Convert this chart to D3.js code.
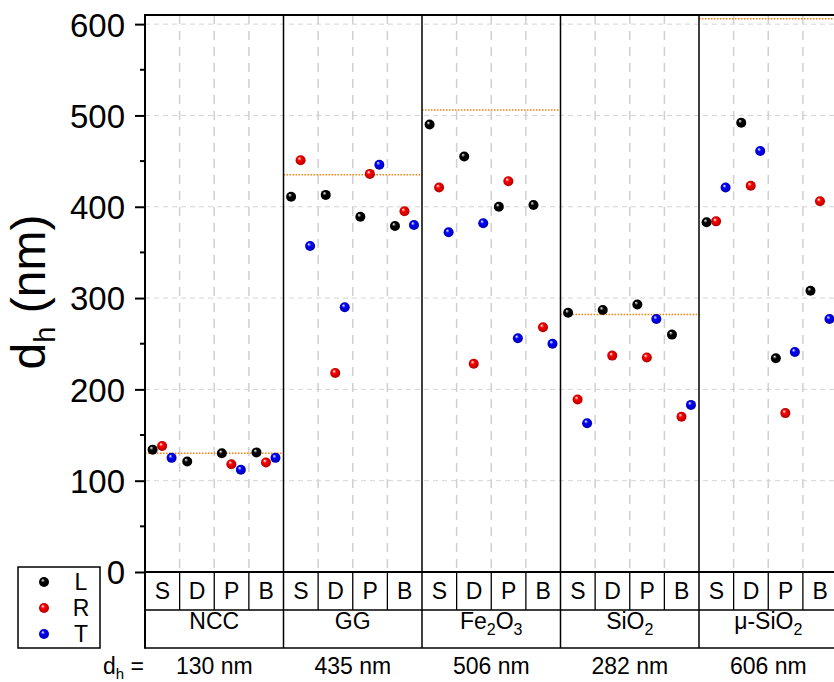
<!DOCTYPE html>
<html>
<head>
<meta charset="utf-8">
<script src="https://cdn.jsdelivr.net/npm/d3@7.9.0/dist/d3.min.js"></script>
<style>
  body { margin: 0; background: #fff; }
  svg { display: block; font-family: "Liberation Sans", Arial, sans-serif; }
</style>
</head>
<body>
<svg id="chart" width="834" height="682"></svg>
<script>
// particle types, dispersion methods, observers
const groups = ["NCC", "GG", "Fe2O3", "SiO2", "μ-SiO2"];
const methods = ["S", "D", "P", "B"];
const series = ["L", "R", "T"];
const seriesColors = ["#000000", "#ff0000", "#0000ff"];
const dhRef = [130, 435, 506, 282, 606];
const yTicks = [0, 100, 200, 300, 400, 500, 600];

// one row per group, one value per method (null = no point)
const valuesL = [
  [134, 121, 130, 131],
  [411, 413, 389, 379],
  [490, 455, 400, 402],
  [284, 287, 293, 260],
  [383, 492, 234, 308]
];
const valuesR = [
  [138, null, 118, 120],
  [451, 218, 436, 395],
  [421, 228, 428, 268],
  [189, 237, 235, 170],
  [384, 423, 174, 406]
];
const valuesT = [
  [125, null, 112, 125],
  [357, 290, 446, 380],
  [372, 382, 256, 250],
  [163, null, 277, 183],
  [421, 461, 241, 277]
];

const svg = d3.select("#chart");
const plotLeft = 145, plotTop = 15, plotBottom = 572;
const rowH = 38;
const row1 = plotBottom + rowH, row2 = row1 + rowH;

const y = d3.scaleLinear().domain([0, 610]).range([plotBottom, plotTop]);
const xGroup = d3.scaleBand().domain(groups).range([plotLeft, plotLeft + 5 * 138.5]);
const xMethod = d3.scaleBand().domain(methods).range([0, xGroup.bandwidth()]);
const xSeries = d3.scalePoint().domain(series).range([7.6, 26.6]);
const right = xGroup.range()[1];

// sphere gradients
const defs = svg.append("defs");
series.forEach((s, i) => {
  const g = defs.append("radialGradient")
    .attr("id", "ball-" + s)
    .attr("cx", "50%").attr("cy", "50%").attr("r", "55%")
    .attr("fx", "35%").attr("fy", "30%");
  g.append("stop").attr("offset", "0%").attr("stop-color", "#ffffff");
  g.append("stop").attr("offset", "35%").attr("stop-color", seriesColors[i]);
  g.append("stop").attr("offset", "100%").attr("stop-color", d3.color(seriesColors[i]).darker(1.2));
});

// horizontal grid
svg.append("g").selectAll("line")
  .data(yTicks.filter(d => d > 0))
  .enter().append("line")
  .attr("x1", plotLeft).attr("x2", right)
  .attr("y1", d => y(d)).attr("y2", d => y(d))
  .attr("stroke", "#d4d4d4").attr("stroke-width", 1)
  .attr("stroke-dasharray", "5,4");

// vertical method grid inside the plot + solid in method row
groups.forEach(g => {
  methods.slice(1).forEach(m => {
    const xm = xGroup(g) + xMethod(m);
    svg.append("line")
      .attr("x1", xm).attr("x2", xm)
      .attr("y1", plotTop).attr("y2", plotBottom)
      .attr("stroke", "#d0d0d0").attr("stroke-width", 1.5)
      .attr("stroke-dasharray", "9,7");
    svg.append("line")
      .attr("x1", xm).attr("x2", xm)
      .attr("y1", plotBottom).attr("y2", row1)
      .attr("stroke", "#000").attr("stroke-width", 1.3);
  });
});

// reference d_h lines
svg.append("g").selectAll("line")
  .data(groups)
  .enter().append("line")
  .attr("x1", d => xGroup(d)).attr("x2", d => xGroup(d) + xGroup.bandwidth())
  .attr("y1", (d, i) => y(dhRef[i])).attr("y2", (d, i) => y(dhRef[i]))
  .attr("stroke", "#ff7f0e").attr("stroke-width", 1.5)
  .attr("stroke-dasharray", "1.5,1.5");

// panel separators
svg.append("g").selectAll("line")
  .data(groups.slice(1))
  .enter().append("line")
  .attr("x1", d => xGroup(d)).attr("x2", d => xGroup(d))
  .attr("y1", plotTop).attr("y2", row2)
  .attr("stroke", "#000").attr("stroke-width", 1.5);

// frame and table rows
[plotTop, plotBottom, row1, row2].forEach((yy, i) => {
  svg.append("line")
    .attr("x1", plotLeft).attr("x2", right)
    .attr("y1", yy).attr("y2", yy)
    .attr("stroke", "#000").attr("stroke-width", i < 2 ? 2 : 1.5);
});
svg.append("line")
  .attr("x1", plotLeft).attr("x2", plotLeft)
  .attr("y1", plotTop - 1).attr("y2", row2 + 0.75)
  .attr("stroke", "#000").attr("stroke-width", 2);

// y axis
const yAxis = svg.append("g").attr("transform", `translate(${plotLeft},0)`)
  .call(d3.axisLeft(y).tickValues(yTicks).tickSize(10).tickPadding(10));
yAxis.select(".domain").remove();
yAxis.selectAll(".tick line").attr("stroke-width", 2);
yAxis.selectAll(".tick text")
  .attr("font-size", 33).attr("font-family", "Liberation Sans, Arial, sans-serif")
  .attr("fill", "#000").attr("dy", "0.36em");

const minor = d3.range(50, 610, 100);
svg.append("g").selectAll("line")
  .data(minor)
  .enter().append("line")
  .attr("x1", plotLeft - 5).attr("x2", plotLeft)
  .attr("y1", d => y(d)).attr("y2", d => y(d))
  .attr("stroke", "#000").attr("stroke-width", 2);

// y label
const yl = svg.append("text")
  .attr("transform", "translate(45,292) rotate(-90)")
  .attr("text-anchor", "middle")
  .attr("font-size", 48);
yl.append("tspan").text("d");
yl.append("tspan").attr("font-size", 29).attr("dy", 10).text("h");
yl.append("tspan").attr("dy", -10).text(" (nm)");

// data points
const allValues = [valuesL, valuesR, valuesT];
const points = [];
series.forEach((s, si) => {
  groups.forEach((g, gi) => {
    methods.forEach((m, mi) => {
      const v = allValues[si][gi][mi];
      if (v != null) points.push({ s, g, m, v });
    });
  });
});
svg.append("g").selectAll("circle")
  .data(points)
  .enter().append("circle")
  .attr("cx", d => xGroup(d.g) + xMethod(d.m) + xSeries(d.s))
  .attr("cy", d => y(d.v))
  .attr("r", 5)
  .attr("fill", d => `url(#ball-${d.s})`);

// method labels
groups.forEach(g => {
  svg.append("g").selectAll("text")
    .data(methods)
    .enter().append("text")
    .attr("x", m => xGroup(g) + xMethod(m) + xMethod.bandwidth() / 2)
    .attr("y", plotBottom + rowH / 2)
    .attr("dy", "0.36em")
    .attr("text-anchor", "middle")
    .attr("font-size", 23)
    .text(m => m);
});

// group labels with subscript digits
function richLabel(sel, label) {
  let shift = 0;
  label.split(/(\d)/).filter(p => p !== "").forEach(p => {
    const sub = /\d/.test(p);
    const target = sub ? 6 : 0;
    sel.append("tspan")
      .attr("font-size", sub ? 16 : 23)
      .attr("dy", target - shift)
      .text(p);
    shift = target;
  });
}
groups.forEach(g => {
  const t = svg.append("text")
    .attr("x", xGroup(g) + xGroup.bandwidth() / 2)
    .attr("y", row1 + rowH / 2)
    .attr("dy", "0.36em")
    .attr("text-anchor", "middle")
    .attr("font-size", 23);
  richLabel(t, g);
});

// d_h row
svg.append("g").selectAll("text")
  .data(groups)
  .enter().append("text")
  .attr("x", d => xGroup(d) + xGroup.bandwidth() / 2)
  .attr("y", row2 + 26)
  .attr("text-anchor", "middle")
  .attr("font-size", 23)
  .text((d, i) => `${dhRef[i]} nm`);
const dh = svg.append("text").attr("x", 103).attr("y", row2 + 26).attr("font-size", 23);
dh.append("tspan").text("d");
dh.append("tspan").attr("font-size", 15).attr("dy", 5).text("h");
dh.append("tspan").attr("dy", -5).text(" =");

// legend
const legend = svg.append("g");
legend.append("rect")
  .attr("x", 18).attr("y", 567).attr("width", 82).attr("height", 81)
  .attr("fill", "#fff").attr("stroke", "#000").attr("stroke-width", 1.5);
const ly = d3.scalePoint().domain(series).range([582, 634]);
legend.selectAll("circle")
  .data(series)
  .enter().append("circle")
  .attr("cx", 44).attr("cy", d => ly(d)).attr("r", 5)
  .attr("fill", d => `url(#ball-${d})`);
legend.selectAll("text")
  .data(series)
  .enter().append("text")
  .attr("x", 81).attr("y", d => ly(d)).attr("dy", "0.36em")
  .attr("text-anchor", "middle").attr("font-size", 23)
  .text(d => d);
</script>
</body>
</html>
